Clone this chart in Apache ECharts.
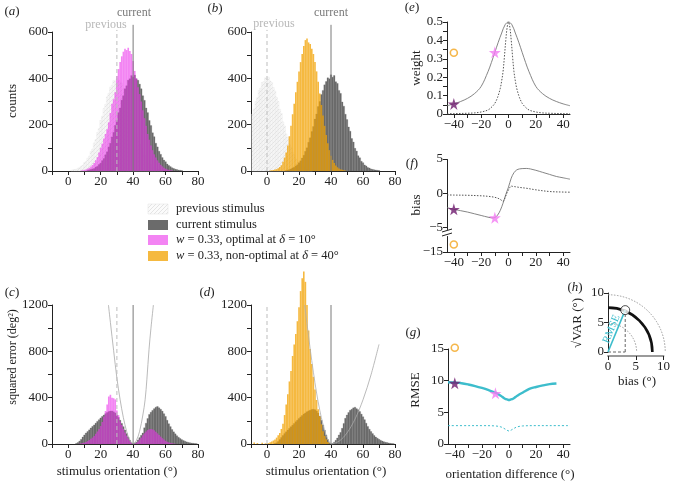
<!DOCTYPE html>
<html><head><meta charset="utf-8">
<script src="https://cdn.jsdelivr.net/npm/echarts@6/dist/echarts.min.js"></script>
<style>html,body{margin:0;padding:0;background:#fff}#c{width:673px;height:482px}</style>
</head><body><div id="c"></div>
<script>
// ================= DATA =================
// histograms: first bin centre + counts per 1-degree bin
const prevA_x0 = 2;
const prevA = [3,5,6,7,12,14,21,25,36,41,55,64,84,95,121,136,166,183,218,236,270,288,320,335,362,370,390,388,398,392,384,378,355,341,312,296,262,244,208,190,160,142,115,100,79,68,51,45,33,27,19,16,10,9,6,4,3];
const currA_x0 = 12;
const currA = [3,5,7,9,11,17,20,28,34,45,54,70,83,104,120,147,167,197,218,252,272,306,325,355,368,392,398,412,405,414,398,392,375,355,325,305,272,252,218,196,165,148,120,104,85,72,58,47,40,30,24,19,14,11,8,6,4,3,2];
const magA_x0 = 8;
const magA = [2,3,5,7,10,14,19,26,35,46,60,80,100,118,140,160,180,210,250,290,310,340,410,440,470,495,515,528,522,532,518,505,475,432,400,362,332,300,262,228,195,160,135,110,90,72,58,46,36,27,20,14,10,7,5,3,2];

const prevB_x0 = -9;
const prevB = [246,268,300,316,348,358,382,386,402,395,405,388,382,360,345,318,300,266,248,212,194,160,145,115,102,80,70,52,45,32,27,19,16,11,9,6,4,3];
const currB_x0 = 12;
const currB = [2,4,6,9,13,16,22,27,36,44,56,68,85,100,124,143,170,192,224,246,278,300,330,348,372,386,402,398,415,405,412,385,378,348,335,298,280,245,222,190,172,140,125,98,86,66,57,42,36,26,22,15,13,9,7,5,4,3,2];
const oraB_x0 = 2;
const oraB = [2,3,4,6,8,12,17,25,40,58,80,110,150,195,245,290,340,385,430,470,505,540,565,572,555,548,528,505,470,430,385,335,285,240,195,155,120,90,66,48,34,24,16,11,7,5,3,2];

// squared error histograms
const grayCL_x0 = 5;
const grayCL = [5,12,25,40,60,78,95,108,122,138,152,165,180,195,210,225,238,250,262,272,280,285,285,278,268,250,230,205,178,150,120,90,60,32,10];
const grayCR_x0 = 41;
const grayCR = [5,15,35,55,75,95,140,180,220,255,275,290,305,318,324,312,300,284,262,238,205,175,150,125,105,88,72,58,48,38,30,24,18,14,11,8,6,4,3];
const magCL_x0 = 7;
const magCL = [3,5,8,12,18,25,34,45,55,70,88,108,130,155,190,235,285,340,410,425,400,395,385,290,250,195,165,130,100,72,48,25,8];
const magCR_x0 = 41;
const magCR = [3,10,22,38,55,75,92,108,120,128,130,126,118,105,92,78,64,50,38,28,20,14,10,6,4,2];

const grayDL_x0 = 5;
const grayDL = [4,10,22,38,56,74,90,105,120,135,150,163,178,192,206,220,234,246,258,268,278,286,292,298,300,296,285,268,240,205,165,120,78,38,10];
const grayDR_x0 = 41;
const grayDR = [6,16,32,52,78,100,135,178,222,250,272,292,300,312,318,305,296,280,258,235,210,180,152,128,108,90,74,60,50,40,32,25,20,15,12,9,6,4,3];
const oraD_x0 = -8;
const oraD = [12,0,8,0,0,10,0,6,4,8,15,22,30,38,55,75,95,130,175,250,340,430,540,630,760,860,950,1060,1180,1320,1430,1490,1400,1200,980,820,690,580,470,380,300,240,170,110,70,40,18,5];

// envelope curves in (c) and (d)
const envCL = [[24.8,1200],[26,1050],[28,805],[30,570],[32,382],[34,227],[36,110],[38,32],[40,0]];
const envCR = [[40,0],[42,30],[44,110],[46,250],[47.4,382],[48.5,560],[49.8,815],[51,1000],[52.5,1200]];
const envDL = [[23.5,1200],[25,1040],[27,820],[29,620],[31,440],[33,290],[35,170],[37,75],[39,15],[40,0]];
const envDR = [[40,0],[45,24],[50,96],[55,215],[60,382],[65,597],[70,860]];

// reference orientations
const prevOriA = 30, currOri = 40, prevOriB = 0;

// (e) weight
const dW = [-45,-40,-35,-30,-25,-20,-15,-12.5,-10,-7.5,-5,-2.5,0,2.5,5,7.5,10,12.5,15,20,25,30,35,40,45];
const wBroad = [0.045,0.055,0.068,0.085,0.11,0.15,0.23,0.28,0.335,0.39,0.44,0.485,0.5,0.485,0.44,0.39,0.335,0.28,0.23,0.15,0.11,0.085,0.068,0.055,0.045];
const dN = [-45,-40,-30,-25,-20,-15,-12,-10,-8,-6,-5,-4,-3,-2,-1,0,1,2,3,4,5,6,8,10,12,15,20,25,30,40,45];
const wNarrow = [0.001,0.002,0.004,0.006,0.011,0.022,0.04,0.058,0.09,0.14,0.18,0.23,0.31,0.40,0.47,0.5,0.47,0.40,0.31,0.23,0.18,0.14,0.09,0.058,0.04,0.022,0.011,0.006,0.004,0.002,0.001];

// (f) bias
const dB = [-45,-40,-35,-30,-25,-20,-15,-12,-10,-8,-6,-4,-2,0,2,4,6,8,10,13,16,20,25,30,35,40,45];
const biasBroad = [-2.1,-2.35,-2.55,-2.75,-3.0,-3.25,-3.5,-3.6,-3.55,-3.2,-2.5,-1.45,-0.2,0.9,2.2,3.0,3.4,3.55,3.6,3.62,3.55,3.35,3.05,2.75,2.45,2.25,2.05];
const dBN = [-45,-40,-30,-20,-15,-10,-7,-5,-4,-3,-2,-1,0,1,2,3,5,8,13,20,30,40,45];
const biasNarrow = [-0.25,-0.27,-0.3,-0.38,-0.45,-0.6,-0.8,-1.05,-1.2,-0.9,-0.4,0.1,0.5,0.85,1.05,1.0,0.95,0.85,0.73,0.5,0.25,0.17,0.15];

// (g) RMSE
const dR = [-45,-40,-35,-30,-25,-20,-15,-10,-7,-5,-3,-1,0,1,3,5,7,10,15,20,25,30,35];
const rmseSolid = [9.75,9.7,9.6,9.4,9.15,8.85,8.5,8.1,7.75,7.45,7.15,7.0,6.95,7.0,7.15,7.45,7.75,8.1,8.7,9.0,9.25,9.45,9.55];
const dRD = [-45,-30,-20,-10,-6,-4,-2,0,2,4,6,10,20,30,45];
const rmseDashed = [2.9,2.9,2.9,2.85,2.7,2.5,2.25,2.05,2.25,2.5,2.7,2.85,2.9,2.9,2.9];

// markers (delta, value) for e, f, g
const optimalStar = [[-40,0.055],[-40,-2.35],[-40,9.6]];
const pinkStar = [[-10,0.335],[-10,-3.57],[-10,8.0]];
const orangeCircle = [[-40,0.333],[-40,-13.9],[-40,15.2]];

// (h) bias / sqrt(VAR)
const hBias = 3.1, hSd = 7.1, hRmse = 7.75;
const hRefRadii = [5, 10];

// ticks & labels
const histXTicks = [-10,0,10,20,30,40,50,60,70,80];
const histXLabels = [0,20,40,60,80];
const countTicks = [0,100,200,300,400,500,600];
const countLabels = [0,200,400,600];
const sqTicks = [0,200,400,600,800,1000,1200];
const sqLabels = [0,400,800,1200];
const dTicks = [-40,-30,-20,-10,0,10,20,30,40];
const dLabels = [-40,-20,0,20,40];
const wTicks = [0,0.05,0.1,0.15,0.2,0.25,0.3,0.35,0.4,0.45,0.5];
const wLabels = [0,0.1,0.2,0.3,0.4,0.5];
const bTicks = [-15,-5,0,5];
const rTicks = [0,5,10,15];
const hTicks = [0,5,10];

// ================= STYLE / BUILD =================
const FONT = '"Liberation Serif", "Times New Roman", serif';
const GRAY = '#6b6b6b';
const MAG = 'rgba(235,50,235,0.6)';
const ORA = 'rgba(242,161,0,0.75)';
const CYAN = '#3dbdcc';
const STAR = 'path://M50,0 L61,35 L98,35 L68,57 L79,91 L50,70 L21,91 L32,57 L2,35 L39,35 Z';

const pat = document.createElement('canvas'); pat.width = 4; pat.height = 4;
(function(){ const g = pat.getContext('2d'); g.fillStyle = '#fbfbfb'; g.fillRect(0,0,4,4);
  g.strokeStyle = '#dadada'; g.lineWidth = 0.7; g.beginPath(); g.moveTo(-1,5); g.lineTo(5,-1); g.stroke(); })();
const HATCH = {image: pat, repeat: 'repeat'};

function fmt(v){ return v < 0 ? '\u2212' + Math.abs(v) : String(v); }
function axis(gi, min, max, ticks, labels, extra){
  const a = {
    type:'value', gridIndex:gi, min:min, max:max,
    axisLine:{show:true, onZero:false, lineStyle:{color:'#222', width:1}},
    axisTick:{show:true, inside:false, length:4, customValues:ticks, lineStyle:{color:'#222', width:1}},
    axisLabel:{show:true, customValues:labels, formatter:fmt, fontFamily:FONT, fontSize:13, color:'#222', margin:4},
    splitLine:{show:false}
  };
  return Object.assign(a, extra || {});
}
function hist(gi, x0, vals, fill, z, stroke, sw){
  return { type:'custom', xAxisIndex:gi, yAxisIndex:gi, z:z, clip:false, silent:true,
    data: vals.map((v,i)=>[x0+i, v]),
    renderItem:(p, api)=>{ const x = api.value(0), y = api.value(1);
      const a = api.coord([x-0.5, y]), b = api.coord([x+0.5, 0]);
      return {type:'rect', shape:{x:a[0], y:a[1], width:b[0]-a[0], height:b[1]-a[1]},
        style:{fill:fill, stroke:stroke||null, lineWidth:stroke?(sw||0.4):0}}; } };
}
function curve(gi, data, color, width, type, z, smooth){
  return {type:'line', xAxisIndex:gi, yAxisIndex:gi, data:data, showSymbol:false, symbol:'none',
    smooth: smooth ? 0.35 : false, clip:false, z:z||6, silent:true, animation:false,
    lineStyle:{color:color, width:width, type:type||'solid'}};
}
function zipXY(xs, ys){ return xs.map((x,i)=>[x, ys[i]]); }
function mark(gi, pt, symbol, size, style){
  return {type:'scatter', xAxisIndex:gi, yAxisIndex:gi, data:[pt], symbol:symbol, symbolSize:size,
    itemStyle:style, z:12, silent:true, clip:false, animation:false};
}
function arcSeries(gi, radii, stroke, width, dash){
  return {type:'custom', xAxisIndex:gi, yAxisIndex:gi, clip:false, silent:true, z:4,
    data: radii.map(r=>[r, 0]),
    renderItem:(p, api)=>{ const r = api.value(0); const c = api.coord([0,0]);
      const ex = api.coord([r,0]), ey = api.coord([0,r]);
      const R = ((ex[0]-c[0]) + (c[1]-ey[1]))/2;
      return {type:'arc', shape:{cx:c[0], cy:c[1], r:R, startAngle:-Math.PI/2, endAngle:0, clockwise:true},
        style:{stroke:stroke, lineWidth:width, fill:null, lineDash:dash||null}}; } };
}

const grids = [
  {left:52, top:32, width:146, height:139},
  {left:251, top:32, width:144, height:139},
  {left:52, top:305, width:146, height:139},
  {left:251, top:305, width:144, height:139},
  {left:447, top:22, width:123, height:92},
  {left:447, top:159, width:123, height:93},
  {left:448, top:349, width:122, height:95},
  {left:608, top:293, width:58, height:59}
];

const xAxes = [
  axis(0,-10,80,histXTicks,histXLabels),
  axis(1,-10,80,histXTicks,histXLabels),
  axis(2,-10,80,histXTicks,histXLabels),
  axis(3,-10,80,histXTicks,histXLabels),
  axis(4,-45,45,dTicks,dLabels),
  axis(5,-45,45,dTicks,dLabels),
  axis(6,-45,45,dTicks,dLabels),
  axis(7,0,10,hTicks,hTicks,{offset:4, axisLine:{show:true, onZero:false, lineStyle:{color:'#9a9a9a', width:2}}})
];
const yAxes = [
  axis(0,0,600,countTicks,countLabels),
  axis(1,0,600,countTicks,countLabels),
  axis(2,0,1200,sqTicks,sqLabels),
  axis(3,0,1200,sqTicks,sqLabels),
  axis(4,0,0.5,wTicks,wLabels),
  axis(5,-15,5,bTicks,bTicks,{breaks:[{start:-12.7, end:-5.2, gap:'8%'}], breakArea:{show:false}}),
  axis(6,0,15,rTicks,rTicks),
  axis(7,0,10,hTicks,hTicks)
];

function vline(gi, x, top, color, type){ return curve(gi, [[x,0],[x,top]], color, 1, type, 8); }

const series = [
  // (a)
  hist(0, prevA_x0, prevA, HATCH, 2, '#e6e6e6', 0.4),
  hist(0, currA_x0, currA, GRAY, 3, GRAY, 0.25),
  hist(0, magA_x0, magA, MAG, 4),
  vline(0, prevOriA, 609, '#bdbdbd', [4,3]),
  vline(0, currOri, 631, '#7a7a7a', 'solid'),
  // (b)
  hist(1, prevB_x0, prevB, HATCH, 2, '#e6e6e6', 0.4),
  hist(1, currB_x0, currB, GRAY, 3, GRAY, 0.25),
  hist(1, oraB_x0, oraB, ORA, 4),
  vline(1, prevOriB, 609, '#bdbdbd', [4,3]),
  vline(1, currOri, 631, '#7a7a7a', 'solid'),
  // (c)
  hist(2, grayCL_x0, grayCL, GRAY, 3, GRAY, 0.25),
  hist(2, grayCR_x0, grayCR, GRAY, 3, GRAY, 0.25),
  hist(2, magCL_x0, magCL, MAG, 4),
  hist(2, magCR_x0, magCR, MAG, 4),
  vline(2, prevOriA, 1200, '#bdbdbd', [4,3]),
  vline(2, currOri, 1200, '#7a7a7a', 'solid'),
  curve(2, envCL, '#a8a8a8', 0.8, 'solid', 7, true),
  curve(2, envCR, '#a8a8a8', 0.8, 'solid', 7, true),
  // (d)
  hist(3, grayDL_x0, grayDL, GRAY, 3, GRAY, 0.25),
  hist(3, grayDR_x0, grayDR, GRAY, 3, GRAY, 0.25),
  hist(3, oraD_x0, oraD, ORA, 4),
  vline(3, prevOriB, 1200, '#bdbdbd', [4,3]),
  vline(3, currOri, 1200, '#7a7a7a', 'solid'),
  curve(3, envDL, '#b0b0b0', 0.8, 'solid', 7, true),
  curve(3, envDR, '#a8a8a8', 0.8, 'solid', 7, true),
  // (e)
  curve(4, zipXY(dW, wBroad), '#777', 0.9, 'solid', 6, true),
  curve(4, zipXY(dN, wNarrow), '#555', 1, [1.5,1.5], 6, true),
  // (f)
  curve(5, zipXY(dB, biasBroad), '#777', 0.9, 'solid', 6, true),
  curve(5, zipXY(dBN, biasNarrow), '#555', 1, [1.5,1.5], 6, true),
  // (g)
  curve(6, zipXY(dR, rmseSolid), CYAN, 2.4, 'solid', 6, true),
  curve(6, zipXY(dRD, rmseDashed), CYAN, 1, [2,2], 6, true),
  // (h)
  arcSeries(7, hRefRadii, '#9a9a9a', 1, [1.5,1.5]),
  arcSeries(7, [hRmse], '#111', 2.6, null),
  curve(7, [[hBias,0],[hBias,hSd]], '#666', 1, [3,2], 7),
  curve(7, [[0,0],[hBias,0]], '#666', 1, [3,2], 7),
  curve(7, [[0,0],[hBias,hSd]], CYAN, 1.6, 'solid', 8),
  mark(7, [hBias,hSd], 'circle', 9, {color:'#fff', borderColor:'#222', borderWidth:1}),
  {type:'custom', xAxisIndex:7, yAxisIndex:7, clip:false, silent:true, z:9, data:[[hBias,hSd]],
    renderItem:(p, api)=>{ const a = api.coord([0,0]), b = api.coord([api.value(0), api.value(1)]);
      const ang = Math.atan2(a[1]-b[1], b[0]-a[0]);
      const mx = (a[0]+b[0])/2, my = (a[1]+b[1])/2;
      return {type:'text', x:mx, y:my, rotation:ang,
        style:{text:'RMSE', fill:CYAN, fontFamily:FONT, fontSize:11, align:'center', verticalAlign:'bottom'}}; } }
];
// markers for e, f, g
[4,5,6].forEach((gi, k)=>{
  series.push(mark(gi, orangeCircle[k], 'circle', 7, {color:'#fff', borderColor:'#f3a51e', borderWidth:1.6}));
  series.push(mark(gi, pinkStar[k], STAR, 12, {color:'#f27af2'}));
  series.push(mark(gi, optimalStar[k], STAR, 12, {color:'#6e1a6e'}));
});

// ================= TEXT / LEGEND =================
function T(x, y, text, o){
  return Object.assign({type:'text', x:x, y:y, silent:true, z:50,
    style:Object.assign({text:text, fontFamily:FONT, fontSize:13, fill:'#222', align:'center', verticalAlign:'middle'}, (o&&o.style)||{})},
    o && o.rotation ? {rotation:o.rotation} : {});
}
const RICH = {i:{fontStyle:'italic', fontFamily:FONT, fontSize:13, fill:'#222'}};
function panel(x, y, letter){ return T(x, y, '({i|' + letter + '})', {style:{rich:RICH}}); }
const V = Math.PI/2;
const graphics = [
  panel(12,12,'a'), panel(215,9,'b'), panel(12,293,'c'), panel(207,293,'d'),
  panel(412,8,'e'), panel(412,164,'f'), panel(413,333,'g'), panel(575,288,'h'),
  T(134,13,'current',{style:{fill:'#7a7a7a', fontSize:12}}),
  T(106,25,'previous',{style:{fill:'#b8b8b8', fontSize:12}}),
  T(274,24,'previous',{style:{fill:'#b8b8b8', fontSize:12}}),
  T(331,13,'current',{style:{fill:'#7a7a7a', fontSize:12}}),
  T(13,101,'counts',{rotation:V}),
  T(13,357,'squared error (deg\u00B2)',{rotation:V, style:{fontSize:12}}),
  T(117,472,'stimulus orientation (\u00B0)'),
  T(326,472,'stimulus orientation (\u00B0)'),
  T(417,68,'weight',{rotation:V}),
  T(417,205,'bias',{rotation:V}),
  T(416,390,'RMSE',{rotation:V}),
  T(510,475,'orientation difference (\u00B0)'),
  T(578,323,'\u221AVAR (\u00B0)',{rotation:V}),
  T(637,382,'bias (\u00B0)'),
  // axis break mark in (f)
  {type:'polyline', silent:true, z:50, shape:{points:[[442,232],[452,229]]}, style:{stroke:'#222', lineWidth:1}},
  {type:'polyline', silent:true, z:50, shape:{points:[[442,236],[452,233]]}, style:{stroke:'#222', lineWidth:1}},
  {type:'rect', silent:true, z:49, shape:{x:446, y:231, width:2.5, height:3}, style:{fill:'#fff'}}
];
// legend
const legendItems = [
  {fill:HATCH, stroke:'#e0e0e0', text:'previous stimulus'},
  {fill:GRAY, text:'current stimulus'},
  {fill:MAG, text:'{i|w} = 0.33, optimal at {i|\u03B4} = 10\u00B0'},
  {fill:ORA, text:'{i|w} = 0.33, non-optimal at {i|\u03B4} = 40\u00B0'}
];
const legY = [209, 225, 240, 256];
legendItems.forEach((it, k)=>{
  graphics.push({type:'rect', silent:true, z:50, shape:{x:148, y:legY[k]-5, width:20, height:10},
    style:{fill:it.fill, stroke:it.stroke||null, lineWidth:it.stroke?0.5:0}});
  graphics.push(T(176, legY[k], it.text, {style:{align:'left', fontSize:12.5,
    rich:{i:{fontStyle:'italic', fontFamily:FONT, fontSize:12.5, fill:'#222'}}}}));
});

const chart = echarts.init(document.getElementById('c'), null, {renderer:'canvas'});
chart.setOption({
  animation:false, backgroundColor:'#fff',
  grid:grids, xAxis:xAxes, yAxis:yAxes, series:series, graphic:graphics
});
</script></body></html>
